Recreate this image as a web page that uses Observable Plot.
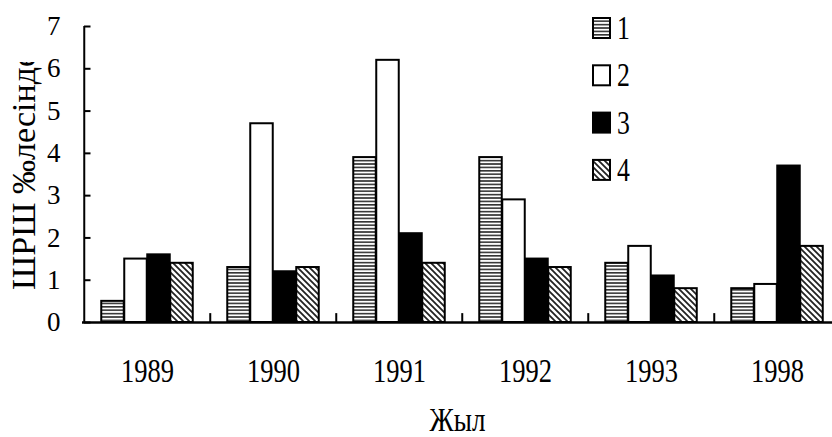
<!DOCTYPE html>
<html><head><meta charset="utf-8">
<script src="https://cdn.jsdelivr.net/npm/d3@7"></script>
<script src="https://cdn.jsdelivr.net/npm/@observablehq/plot@0.6"></script>
<style>
body{margin:0;background:#fff}
#chart svg{display:block}
</style></head><body>
<svg width="0" height="0" style="position:absolute">
<defs>
<pattern id="p1" patternUnits="userSpaceOnUse" width="4" height="3.4">
<rect width="4" height="3.4" fill="#fff"/><rect y="0" width="4" height="1.6" fill="#333"/>
</pattern>
<pattern id="p4" patternUnits="userSpaceOnUse" width="6" height="6">
<rect width="6" height="6" fill="#fff"/><path d="M0,0L6,6M-3,3L3,9M3,-3L9,3" stroke="#222" stroke-width="1.8"/>
</pattern>
</defs></svg>
<div id="chart"></div>
<script>
const years = ["1989","1990","1991","1992","1993","1998"];
const seriesNames = ["1","2","3","4"];
const s1 = [0.5,1.3,3.9,3.9,1.4,0.8];
const s2 = [1.5,4.7,6.2,2.9,1.8,0.9];
const s3 = [1.6,1.2,2.1,1.5,1.1,3.7];
const s4 = [1.4,1.3,1.4,1.3,0.8,1.8];
const yTicks = [0,1,2,3,4,5,6,7];
const yLabel = "ШРШ ‰лесінде";
const xLabel = "Жыл";
const fills = ["url(#p1)","#fff","#000","url(#p4)"];
const serif = '"Liberation Serif","Times New Roman",serif';

const W=832, H=437, leftPx=82, rightPx=841, topPx=26, bottomPx=322;
const bw=(rightPx-leftPx)/years.length;
const barW=23, pad=(bw-4*barW)/2;
const series=[s1,s2,s3,s4];
const marks=[];
series.forEach((vals,i)=>{
  const data = years.map((yr,j)=>({year:yr, value:vals[j]}));
  marks.push(Plot.barY(data,{x:"year", y:"value", fill:fills[i], stroke:"#000", strokeWidth:2,
    insetLeft:pad+i*barW, insetRight:bw-pad-(i+1)*barW}));
});
marks.push(Plot.ruleX(years.slice(1), {x:d=>d, y1:0, y2:0.21, dx:-bw/2, stroke:"#000", strokeWidth:2}));
marks.push(Plot.ruleX([years[0]], {x:d=>d, y1:0, y2:7, dx:-bw/2, stroke:"#000", strokeWidth:2}));
marks.push(Plot.tickY(yTicks, {y:d=>d, x:()=>years[0], insetLeft:0, insetRight:bw-7, stroke:"#000", strokeWidth:2}));
marks.push(Plot.ruleY([0], {stroke:"#000", strokeWidth:2.5}));
marks.push(Plot.axisY(yTicks, {tickSize:0, tickPadding:22, fontSize:27, label:null}));
marks.push(Plot.axisX({tickSize:0, tickPadding:35, fontSize:34, label:null}));
marks.push(Plot.text([xLabel], {frameAnchor:"bottom", dy:98, fontSize:33, lineAnchor:"middle", fill:"#000"}));

const chart = Plot.plot({
  width:W, height:H, marginLeft:leftPx, marginRight:0, marginTop:topPx, marginBottom:H-bottomPx,
  x:{type:"band", domain:years, range:[leftPx, rightPx], padding:0},
  y:{domain:[0,7], range:[bottomPx, topPx]},
  style:{background:"#fff", color:"#000", fontFamily:serif},
  marks
});
document.getElementById("chart").appendChild(chart);

// horizontally condense text around its anchor, keeping Plot's em-based y offsets
function squeeze(el, s){
  const xa = el.getAttribute("x");
  const x = xa && !isNaN(+xa) ? +xa : 0;
  const t = el.getAttribute("transform")||"";
  el.setAttribute("transform", `${t} translate(${x},0) scale(${s},1)`);
  if (xa && !isNaN(+xa)) el.removeAttribute("x");
}
const svg = d3.select(chart);
svg.selectAll('g[aria-label="x-axis tick label"] text').each(function(){squeeze(this,0.78);});
svg.selectAll('g[aria-label="text"] text').each(function(){squeeze(this,0.82);});

// y label (clipped at top as in the reference)
const defs = svg.append("defs");
defs.append("clipPath").attr("id","ylabclip").append("rect").attr("x",0).attr("y",62).attr("width",60).attr("height",300);
svg.append("g").attr("clip-path","url(#ylabclip)")
  .append("text").attr("transform","translate(35,290) rotate(-90)")
  .attr("text-anchor","start")
  .attr("font-size",34).attr("font-family",serif).attr("fill","#000").text(yLabel);

// legend
const lg = svg.append("g");
seriesNames.forEach((n,i)=>{
  const y0 = 18 + i*47.3;
  lg.append("rect").attr("x",593).attr("y",y0).attr("width",17).attr("height",20)
    .attr("fill",fills[i]).attr("stroke","#000").attr("stroke-width",2);
  lg.append("text").attr("transform",`translate(617,${y0+21}) scale(0.78,1)`)
    .attr("text-anchor","start")
    .attr("font-size",33).attr("font-family",serif).attr("fill","#000").text(n);
});
</script>
</body></html>
